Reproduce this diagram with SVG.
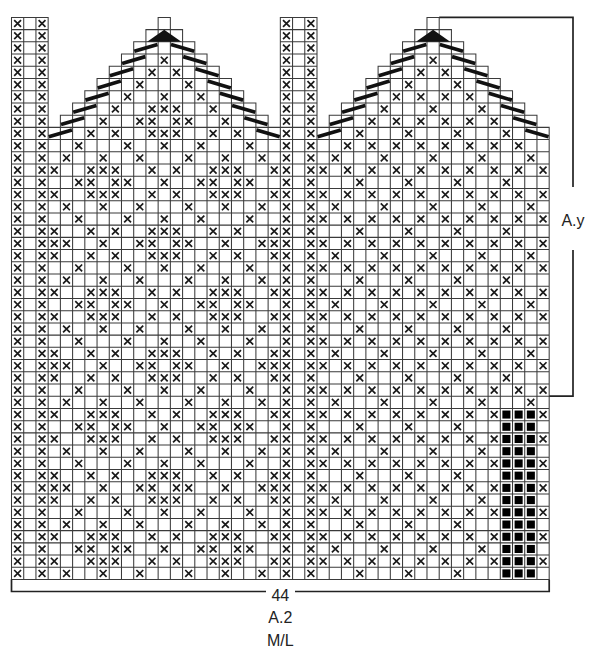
<svg xmlns="http://www.w3.org/2000/svg" width="589" height="650" viewBox="0 0 589 650">
<style>
.lbl{font-family:"Liberation Sans",Arial,sans-serif;font-size:16px;fill:#222;text-anchor:middle}
.br{fill:none;stroke:#222;stroke-width:1.7}
</style>
<defs>
<path id="x" d="M.22 .22L.78 .78M.78 .22L.22 .78" fill="none" stroke="#1a1a1a" stroke-width=".14"/>
<g id="sx"><use href="#x" y="0"/><use href="#x" y="1"/><use href="#x" y="2"/><use href="#x" y="3"/><use href="#x" y="4"/><use href="#x" y="5"/><use href="#x" y="6"/><use href="#x" y="7"/><use href="#x" y="8"/><use href="#x" y="9"/><use href="#x" y="10"/><use href="#x" y="11"/><use href="#x" y="12"/><use href="#x" y="13"/><use href="#x" y="14"/><use href="#x" y="15"/><use href="#x" y="16"/><use href="#x" y="17"/><use href="#x" y="18"/><use href="#x" y="19"/><use href="#x" y="20"/><use href="#x" y="21"/><use href="#x" y="22"/><use href="#x" y="23"/><use href="#x" y="24"/><use href="#x" y="25"/><use href="#x" y="26"/><use href="#x" y="27"/><use href="#x" y="28"/><use href="#x" y="29"/><use href="#x" y="30"/><use href="#x" y="31"/><use href="#x" y="32"/><use href="#x" y="33"/><use href="#x" y="34"/><use href="#x" y="35"/><use href="#x" y="36"/><use href="#x" y="37"/><use href="#x" y="38"/><use href="#x" y="39"/><use href="#x" y="40"/><use href="#x" y="41"/><use href="#x" y="42"/><use href="#x" y="43"/><use href="#x" y="44"/><use href="#x" y="45"/></g>
<g id="R0"><use href="#x" x="5"/><use href="#x" x="9"/><use href="#x" x="12"/><use href="#x" x="15"/><use href="#x" x="19"/></g>
<g id="R1"><use href="#x" x="4"/><use href="#x" x="7"/><use href="#x" x="10"/><use href="#x" x="14"/><use href="#x" x="17"/><use href="#x" x="20"/></g>
<g id="R2"><use href="#x" x="3"/><use href="#x" x="6"/><use href="#x" x="7"/><use href="#x" x="8"/><use href="#x" x="11"/><use href="#x" x="13"/><use href="#x" x="16"/><use href="#x" x="17"/><use href="#x" x="18"/><use href="#x" x="21"/></g>
<g id="R3"><use href="#x" x="5"/><use href="#x" x="6"/><use href="#x" x="8"/><use href="#x" x="9"/><use href="#x" x="12"/><use href="#x" x="15"/><use href="#x" x="16"/><use href="#x" x="18"/><use href="#x" x="19"/></g>
<g id="R7"><use href="#x" x="3"/><use href="#x" x="6"/><use href="#x" x="8"/><use href="#x" x="11"/><use href="#x" x="12"/><use href="#x" x="13"/><use href="#x" x="16"/><use href="#x" x="18"/><use href="#x" x="21"/></g>
<g id="R8"><use href="#x" x="3"/><use href="#x" x="4"/><use href="#x" x="7"/><use href="#x" x="10"/><use href="#x" x="11"/><use href="#x" x="13"/><use href="#x" x="14"/><use href="#x" x="17"/><use href="#x" x="20"/><use href="#x" x="21"/></g>
<g id="LOb"><use href="#x" x="25"/><use href="#x" x="27"/><use href="#x" x="29"/><use href="#x" x="31"/><use href="#x" x="33"/><use href="#x" x="35"/><use href="#x" x="37"/><use href="#x" x="39"/><use href="#x" x="43"/></g>
<g id="LO"><use href="#LOb"/><use href="#x" x="41"/></g>
<g id="L0b"><use href="#x" x="28"/><use href="#x" x="32"/><use href="#x" x="36"/></g>
<g id="L0"><use href="#L0b"/><use href="#x" x="40"/></g>
<g id="L2b"><use href="#x" x="26"/><use href="#x" x="30"/><use href="#x" x="34"/><use href="#x" x="38"/></g>
<g id="L2"><use href="#L2b"/><use href="#x" x="42"/></g>
<g id="bkr"><rect x="40.17" y=".17" width=".66" height=".66"/><rect x="41.17" y=".17" width=".66" height=".66"/><rect x="42.17" y=".17" width=".66" height=".66"/></g>
<path id="sl" d="M10.05 2.77L11.95 2.21M13.05 2.21L14.95 2.77M9.05 3.77L10.95 3.21M14.05 3.21L15.95 3.77M8.05 4.77L9.95 4.21M15.05 4.21L16.95 4.77M7.05 5.77L8.95 5.21M16.05 5.21L17.95 5.77M6.05 6.77L7.95 6.21M17.05 6.21L18.95 6.77M5.05 7.77L6.95 7.21M18.05 7.21L19.95 7.77M4.05 8.77L5.95 8.21M19.05 8.21L20.95 8.77M3.05 9.77L4.95 9.21M20.05 9.21L21.95 9.77" fill="none" stroke="#111" stroke-width=".3"/>
<polygon id="tri" points="11.1,2 13.9,2 12.5,1.02" fill="#111"/>
</defs>
<rect width="589" height="650" fill="#fff"/>
<g id="chart" transform="translate(11.5 17.4) scale(12.22)">
<path id="grid" fill="none" stroke="#3a3a3a" stroke-width=".085" stroke-linecap="square" d="M0 0V46M1 0V46M2 0V46M3 0V46M4 8V46M5 7V46M6 6V46M7 5V46M8 4V46M9 3V46M10 2V46M11 1V46M12 0V46M13 0V46M14 1V46M15 2V46M16 3V46M17 4V46M18 5V46M19 6V46M20 7V46M21 8V46M22 0V46M23 0V46M24 0V46M25 0V46M26 8V46M27 7V46M28 6V46M29 5V46M30 4V46M31 3V46M32 2V46M33 1V46M34 0V46M35 0V46M36 1V46M37 2V46M38 3V46M39 4V46M40 5V46M41 6V46M42 7V46M43 8V46M44 9V46M0 0H3M12 0H13M22 0H25M34 0H35M0 1H3M11 1H14M22 1H25M33 1H36M0 2H3M10 2H15M22 2H25M32 2H37M0 3H3M9 3H16M22 3H25M31 3H38M0 4H3M8 4H17M22 4H25M30 4H39M0 5H3M7 5H18M22 5H25M29 5H40M0 6H3M6 6H19M22 6H25M28 6H41M0 7H3M5 7H20M22 7H25M27 7H42M0 8H3M4 8H21M22 8H25M26 8H43M0 9H44M0 10H44M0 11H44M0 12H44M0 13H44M0 14H44M0 15H44M0 16H44M0 17H44M0 18H44M0 19H44M0 20H44M0 21H44M0 22H44M0 23H44M0 24H44M0 25H44M0 26H44M0 27H44M0 28H44M0 29H44M0 30H44M0 31H44M0 32H44M0 33H44M0 34H44M0 35H44M0 36H44M0 37H44M0 38H44M0 39H44M0 40H44M0 41H44M0 42H44M0 43H44M0 44H44M0 45H44M0 46H44"/>
<g id="strips"><use href="#sx"/><use href="#sx" x="2"/><use href="#sx" x="22"/><use href="#sx" x="24"/></g>
<g id="top-left">
<use href="#x" x="12" y="3"/>
<use href="#x" x="11" y="4"/><use href="#x" x="13" y="4"/>
<use href="#x" x="10" y="5"/><use href="#x" x="14" y="5"/>
<use href="#x" x="9" y="6"/><use href="#x" x="12" y="6"/><use href="#x" x="15" y="6"/>
<use href="#x" x="8" y="7"/><use href="#x" x="11" y="7"/><use href="#x" x="12" y="7"/><use href="#x" x="13" y="7"/><use href="#x" x="16" y="7"/>
<use href="#x" x="7" y="8"/><use href="#x" x="10" y="8"/><use href="#x" x="11" y="8"/><use href="#x" x="13" y="8"/><use href="#x" x="14" y="8"/><use href="#x" x="17" y="8"/>
<use href="#x" x="6" y="9"/><use href="#x" x="8" y="9"/><use href="#x" x="11" y="9"/><use href="#x" x="12" y="9"/><use href="#x" x="13" y="9"/><use href="#x" x="16" y="9"/><use href="#x" x="18" y="9"/>
</g>
<g id="motif">
<use href="#R0" y="10"/><use href="#R1" y="11"/><use href="#R2" y="12"/><use href="#R3" y="13"/><use href="#R2" y="14"/><use href="#R1" y="15"/><use href="#R0" y="16"/><use href="#R7" y="17"/><use href="#R8" y="18"/><use href="#R7" y="19"/>
<use href="#R0" y="20"/><use href="#R1" y="21"/><use href="#R2" y="22"/><use href="#R3" y="23"/><use href="#R2" y="24"/><use href="#R1" y="25"/><use href="#R0" y="26"/><use href="#R7" y="27"/><use href="#R8" y="28"/><use href="#R7" y="29"/>
<use href="#R0" y="30"/><use href="#R1" y="31"/><use href="#R2" y="32"/><use href="#R3" y="33"/><use href="#R2" y="34"/><use href="#R1" y="35"/><use href="#R0" y="36"/><use href="#R7" y="37"/><use href="#R8" y="38"/><use href="#R7" y="39"/>
<use href="#R0" y="40"/><use href="#R1" y="41"/><use href="#R2" y="42"/><use href="#R3" y="43"/><use href="#R2" y="44"/><use href="#R1" y="45"/>
</g>
<g id="top-right">
<use href="#x" x="34" y="3"/>
<use href="#x" x="33" y="4"/><use href="#x" x="35" y="4"/>
<use href="#x" x="32" y="5"/><use href="#x" x="36" y="5"/>
<use href="#x" x="31" y="6"/><use href="#x" x="33" y="6"/><use href="#x" x="35" y="6"/><use href="#x" x="37" y="6"/>
<use href="#x" x="30" y="7"/><use href="#x" x="34" y="7"/><use href="#x" x="38" y="7"/>
<use href="#x" x="29" y="8"/><use href="#x" x="31" y="8"/><use href="#x" x="33" y="8"/><use href="#x" x="35" y="8"/><use href="#x" x="37" y="8"/><use href="#x" x="39" y="8"/>
<use href="#L0" y="9"/>
<use href="#x" x="27" y="10"/><use href="#x" x="29" y="10"/><use href="#x" x="31" y="10"/><use href="#x" x="33" y="10"/><use href="#x" x="35" y="10"/><use href="#x" x="37" y="10"/><use href="#x" x="39" y="10"/><use href="#x" x="41" y="10"/>
<use href="#L2" y="11"/>
</g>
<g id="lattice">
<use href="#LO" y="12"/><use href="#L0" y="13"/><use href="#LO" y="14"/><use href="#L2" y="15"/>
<use href="#LO" y="16"/><use href="#L0" y="17"/><use href="#LO" y="18"/><use href="#L2" y="19"/>
<use href="#LO" y="20"/><use href="#L0" y="21"/><use href="#LO" y="22"/><use href="#L2" y="23"/>
<use href="#LO" y="24"/><use href="#L0" y="25"/><use href="#LO" y="26"/><use href="#L2" y="27"/>
<use href="#LO" y="28"/><use href="#L0" y="29"/><use href="#LO" y="30"/><use href="#L2" y="31"/>
<use href="#LOb" y="32"/><use href="#L0b" y="33"/><use href="#LOb" y="34"/><use href="#L2b" y="35"/>
<use href="#LOb" y="36"/><use href="#L0b" y="37"/><use href="#LOb" y="38"/><use href="#L2b" y="39"/>
<use href="#LOb" y="40"/><use href="#L0b" y="41"/><use href="#LOb" y="42"/><use href="#L2b" y="43"/>
<use href="#LOb" y="44"/><use href="#L0b" y="45"/>
</g>
<g id="black-squares" fill="#000">
<use href="#bkr" y="32"/><use href="#bkr" y="33"/><use href="#bkr" y="34"/><use href="#bkr" y="35"/><use href="#bkr" y="36"/><use href="#bkr" y="37"/><use href="#bkr" y="38"/><use href="#bkr" y="39"/><use href="#bkr" y="40"/><use href="#bkr" y="41"/><use href="#bkr" y="42"/><use href="#bkr" y="43"/><use href="#bkr" y="44"/><use href="#bkr" y="45"/>
</g>
<g id="decreases">
<use href="#sl"/><use href="#sl" x="22"/><use href="#tri"/><use href="#tri" x="22"/>
</g>
</g>
<g id="brackets">
<path class="br" d="M11.5 579.5V591.5H266M295 591.5H549.2V579.5"/>
<path class="br" d="M439.2 17.4H573V187M573 250V396.2H549.2"/>
</g>
<g id="labels">
<text class="lbl" x="280.3" y="601">44</text>
<text class="lbl" x="280.3" y="623">A.2</text>
<text class="lbl" x="280.3" y="646">M/L</text>
<text class="lbl" x="573" y="226">A.y</text>
</g>
</svg>
